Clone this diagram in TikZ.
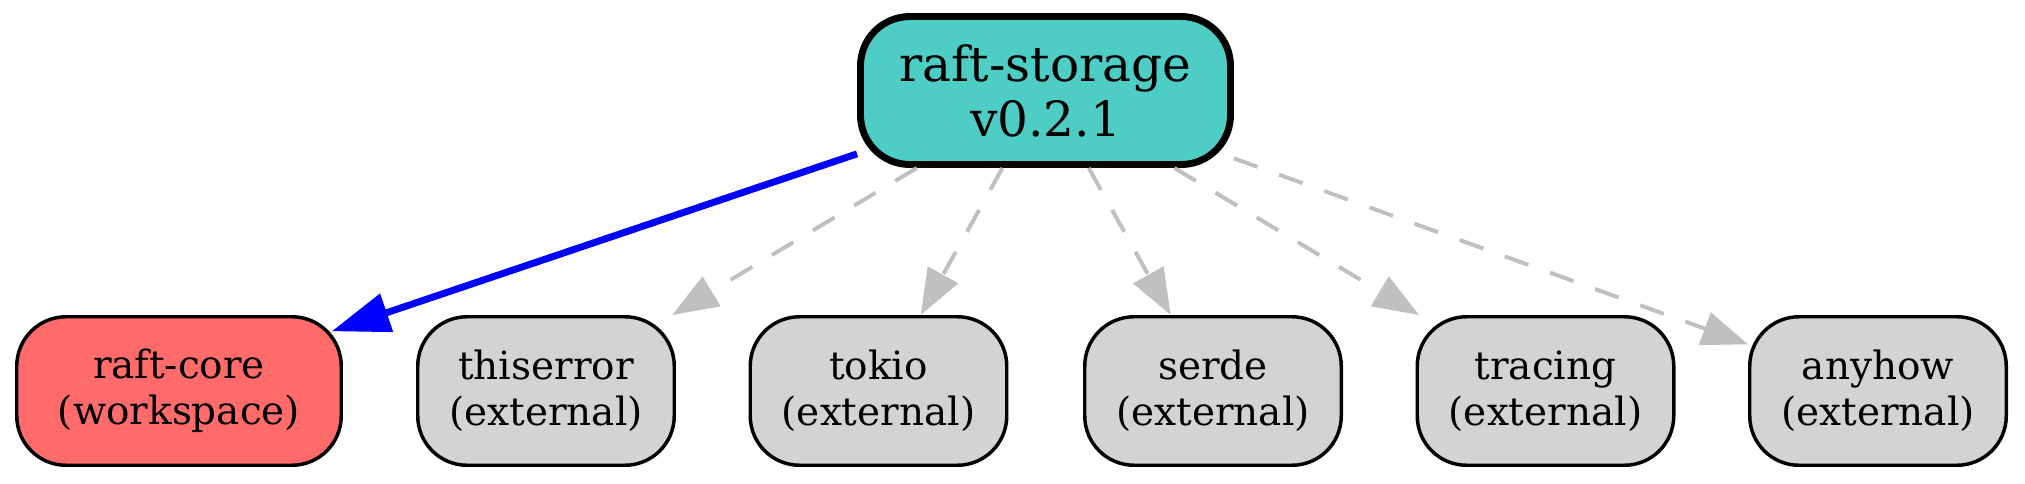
\documentclass[tikz,border=0pt]{standalone}
\usepackage{fontspec}
\setmainfont{DejaVu Serif}
\usetikzlibrary{arrows.meta,calc}
\definecolor{topfill}{HTML}{4ECDC4}
\definecolor{wsfill}{HTML}{FF6B6B}
\definecolor{extfill}{HTML}{D3D3D3}
\definecolor{depgray}{HTML}{C0C0C0}
\begin{document}
\begin{tikzpicture}[x=0.375pt,y=-0.375pt,
  pkg/.style={draw=black, line width=1.3pt, rounded corners=18.5pt, align=center,
    inner sep=0pt, minimum height=55.69pt, minimum width=96.19pt,
    font=\fontsize{14.6}{17.2}\selectfont},
  rootpkg/.style={pkg, line width=2.6pt, fill=topfill, minimum width=138.75pt,
    minimum height=55.5pt, font=\fontsize{18.2}{20.6}\selectfont},
  wspkg/.style={pkg, fill=wsfill, minimum width=121.69pt},
  extpkg/.style={pkg, fill=extfill},
  wsedge/.style={draw=blue, line width=2.6pt,
    -{Triangle[length=21.75pt,width=14.6pt]}},
  extedge/.style={draw=depgray, line width=1.5pt, dash pattern=on 9.4pt off 8.6pt,
    -{Triangle[length=17.25pt,width=12.75pt]}}]
\useasboundingbox (0,0) rectangle (2025,483);
\node[rootpkg] (top) at (1045.5,90.5) {raft-storage\\v0.2.1};
\node[wspkg] (core) at (179,391) {raft-core\\(workspace)};
\node[extpkg] (thiserror) at (546,391) {thiserror\\(external)};
\node[extpkg] (tokio) at (878.5,391) {tokio\\(external)};
\node[extpkg] (serde) at (1213,391) {serde\\(external)};
\node[extpkg] (tracing) at (1545.5,391) {tracing\\(external)};
\node[extpkg] (anyhow) at (1878,391) {anyhow\\(external)};
\draw[wsedge] (top) -- ($(core.north east)+(-11.25,16.25)$);
\draw[extedge] (top) -- (thiserror);
\draw[extedge] (top) -- (tokio);
\draw[extedge] (top) -- (serde);
\draw[extedge] (top) -- (tracing);
\draw[extedge] (top) -- (anyhow);
\end{tikzpicture}
\end{document}
